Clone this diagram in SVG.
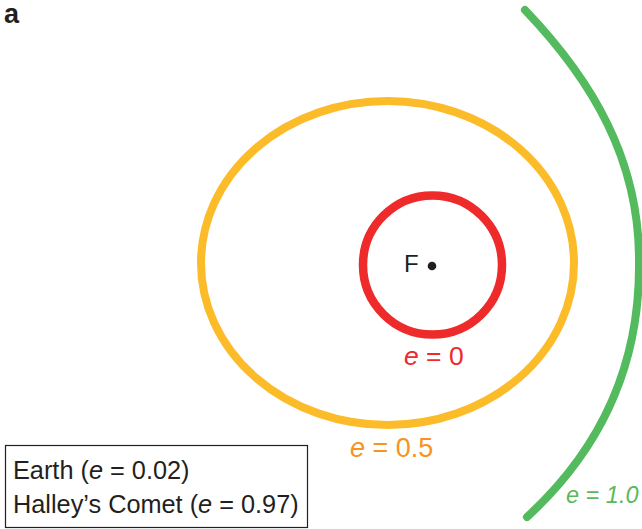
<svg xmlns="http://www.w3.org/2000/svg" width="642" height="529" viewBox="0 0 642 529">
<style>
text{font-family:"Liberation Sans",Arial,sans-serif;}
.orbit{fill:none;stroke-linecap:round;}
.lbl{font-size:25.3px;fill:#231f20;}
</style>
<rect width="642" height="529" fill="#ffffff"/>
<text x="4" y="23" font-size="27" font-weight="bold" fill="#231f20">a</text>
<g id="connectors"></g>
<g id="orbit-parabola">
<path class="orbit" d="M525,10 C592,80 640,160 639,263 C640,366 600,450 527,517" stroke="#54ba5e" stroke-width="8"/>
<text x="566" y="503" font-size="23.5" font-style="italic" fill="#5bb85b">e = 1.0</text>
</g>
<g id="orbit-ellipse">
<ellipse class="orbit" cx="387.5" cy="263" rx="186.5" ry="162" stroke="#fcbc2a" stroke-width="8"/>
<text x="350" y="457" font-size="27" fill="#f7941d"><tspan font-style="italic">e</tspan> = 0.5</text>
</g>
<g id="orbit-circle">
<circle class="orbit" cx="432.5" cy="265" r="69.5" stroke="#ee2a2b" stroke-width="8.5"/>
<text x="404" y="365" font-size="26.5" fill="#ee2a2b"><tspan font-style="italic">e</tspan> = 0</text>
</g>
<g id="focus">
<circle cx="432" cy="266" r="4.3" fill="#231f20"/>
<text x="404" y="272" font-size="24" fill="#231f20">F</text>
</g>
<g id="legend">
<rect x="5.5" y="445.5" width="302" height="82" fill="#ffffff" stroke="#231f20" stroke-width="1.2"/>
<text class="lbl" x="13" y="479">Earth (<tspan font-style="italic">e</tspan> = 0.02)</text>
<text class="lbl" x="13" y="513">Halley’s Comet (<tspan font-style="italic">e</tspan> = 0.97)</text>
</g>
</svg>
